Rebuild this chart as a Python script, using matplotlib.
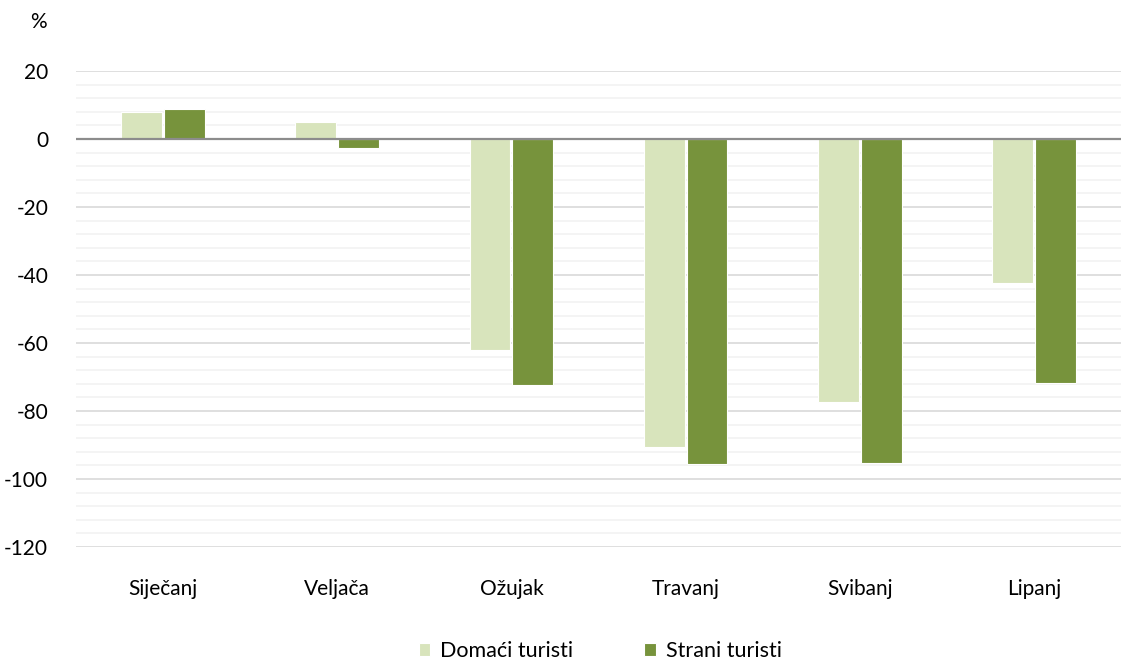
import matplotlib
matplotlib.use("Agg")
import matplotlib.pyplot as plt
import numpy as np
from matplotlib.ticker import MultipleLocator

categories = ["Siječanj", "Veljača", "Ožujak", "Travanj", "Svibanj", "Lipanj"]
domaci = [7.9, 4.9, -62.0, -90.7, -77.4, -42.4]
strani = [8.7, -2.6, -72.4, -95.6, -95.3, -71.8]
series_names = ["Domaći turisti", "Strani turisti"]
yticks = [20, 0, -20, -40, -60, -80, -100, -120]

plt.rcParams['font.family'] = ['Lato', 'DejaVu Sans']
plt.rcParams['axes.unicode_minus'] = False

fig = plt.figure(figsize=(11.22, 6.66), dpi=100)
ax = fig.add_axes([76/1122, 1 - 547/666, (1121 - 76)/1122, (547 - 71)/666])

x = np.arange(len(categories))
w = 0.235
off = 0.123
ax.bar(x - off, domaci, width=w, color="#D8E4BC", edgecolor="white", linewidth=0.8,
       label=series_names[0], zorder=3)
ax.bar(x + off, strani, width=w, color="#77933C", edgecolor="white", linewidth=0.8,
       label=series_names[1], zorder=3)

ax.set_xlim(-0.5, len(categories) - 0.5)
ax.set_ylim(-120, 20)
ax.set_yticks(yticks)
ax.yaxis.set_minor_locator(MultipleLocator(4))
ax.grid(axis="y", which="major", color="#D9D9D9", linewidth=1.2, zorder=0)
ax.grid(axis="y", which="minor", color="#F2F2F2", linewidth=1.2, zorder=0)
ax.axhline(0, color="#8C8C8C", linewidth=1.6, zorder=4)
ax.set_xticks(x)
ax.set_xticklabels(categories)
ax.tick_params(axis="both", which="both", length=0, labelsize=15, colors="black")
ax.tick_params(axis="x", pad=23)
ax.tick_params(axis="y", pad=20)
for s in ax.spines.values():
    s.set_visible(False)

fig.text(30/1122, 1 - 22/666, "%", fontsize=15, ha="left", va="center")

leg = fig.legend(loc="center", bbox_to_anchor=(0.535, 1 - 651/666), ncol=2, frameon=False,
                 fontsize=15.5, handlelength=0.55, handleheight=0.55, columnspacing=3.3,
                 handletextpad=0.45)

fig.savefig("out.png", dpi=100)
